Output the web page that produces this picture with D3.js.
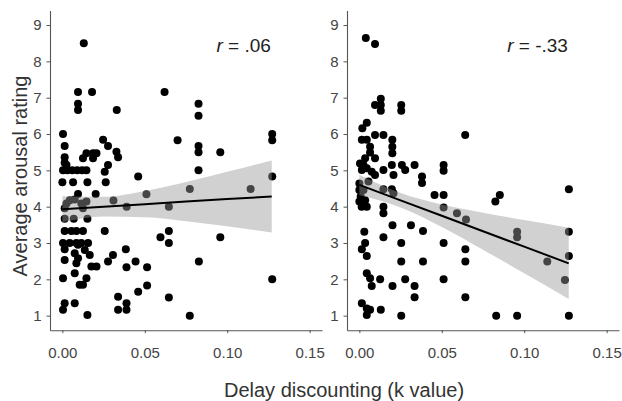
<!DOCTYPE html>
<html>
<head>
<meta charset="utf-8">
<script src="https://cdn.jsdelivr.net/npm/d3@7"></script>
<style>
  html, body { margin: 0; padding: 0; background: #fff; }
  svg { display: block; font-family: "Liberation Sans", Arial, sans-serif; }
</style>
</head>
<body>
<svg id="chart" width="622" height="401"></svg>
<script>
// ---------- data ----------
const xTicks = [0, 0.05, 0.10, 0.15];
const yTicks = [1, 2, 3, 4, 5, 6, 7, 8, 9];
const xTitle = "Delay discounting (k value)";
const yTitle = "Average arousal rating";
const leftLabel = ".06";
const rightLabel = "-.33";

// [k value, average arousal rating]
const leftPoints = [
  [0.013,8.5],
  [0.0095,7.16],[0.018,7.16],[0.0095,6.83],[0.0095,6.66],[0.033,6.66],[0.062,7.16],
  [0.0826,6.83],[0.0826,6.5],
  [0.0004,6.0],[0.0014,5.67],[0.0014,5.36],[0.0014,5.21],
  [0.0247,5.84],[0.0277,5.67],[0.0328,5.51],[0.0338,5.36],
  [0.0146,5.47],[0.0186,5.47],[0.0207,5.47],[0.0125,5.33],[0.0186,5.33],
  [0.0699,5.83],[0.0826,5.67],[0.0826,5.5],[0.0958,5.5],[0.1273,6.0],[0.1273,5.83],
  [0.0826,5.0],
  [0.0277,5.15],[0.0257,4.96],[0.0025,5.15],
  [0.0004,5.0],[0.003,5.0],[0.006,5.0],[0.009,5.0],[0.012,5.0],[0.0146,5.0],
  [0.046,4.83],[0.1273,4.83],
  [0.0,4.67],[0.0065,4.67],[0.0152,4.67],[0.0263,4.67],
  [0.0095,4.35],[0.0202,4.35],[0.051,4.34],[0.0773,4.49],[0.1142,4.49],
  [0.031,4.17],[0.039,4.0],[0.0646,4.0],
  [0.0025,4.09],[0.0045,4.18],[0.0075,4.2],[0.0115,4.09],[0.0146,4.14],[0.0014,3.96],[0.0125,3.96],
  [0.0014,3.67],[0.0069,3.67],[0.0152,3.67],
  [0.0014,3.33],[0.0055,3.33],[0.0085,3.33],[0.0125,3.33],[0.0257,3.33],[0.0646,3.33],
  [0.0595,3.16],[0.0646,3.0],[0.0958,3.16],
  [0.0004,3.0],[0.0044,3.0],[0.0085,3.0],[0.0115,3.0],[0.0156,3.0],
  [0.0014,2.83],[0.0095,2.95],[0.0136,2.81],[0.0166,2.67],[0.0385,2.83],[0.0307,2.67],[0.0277,2.49],[0.0444,2.49],[0.0828,2.49],
  [0.0014,2.53],[0.0075,2.72],[0.0095,2.58],[0.0085,2.44],
  [0.0176,2.35],[0.0207,2.35],[0.0389,2.33],[0.0514,2.33],
  [0.0075,2.17],[0.0004,2.03],[0.0146,2.03],
  [0.0105,1.85],[0.0125,1.85],[0.0514,1.83],[0.046,1.66],
  [0.1273,2.0],
  [0.0338,1.52],[0.0646,1.5],
  [0.0014,1.34],[0.0075,1.34],[0.0389,1.34],
  [0.0004,1.16],[0.0338,1.16],[0.0389,1.16],
  [0.0152,1.02],[0.0773,1.0]
];

const rightPoints = [
  [0.0039,8.64],[0.0095,8.48],
  [0.013,6.97],[0.013,6.8],[0.013,6.64],[0.0095,6.8],[0.0254,6.8],[0.0254,6.64],
  [0.0045,6.31],[0.0018,6.16],
  [0.0095,5.97],[0.0146,5.97],[0.0642,5.97],
  [0.0015,5.84],[0.0045,5.84],
  [0.02,5.84],[0.02,5.65],[0.02,5.47],
  [0.0065,5.65],[0.0065,5.49],
  [0.0035,5.33],[0.0095,5.33],
  [0.0004,5.19],[0.0025,5.15],[0.0015,5.01],[0.0045,5.06],[0.0075,4.96],[0.0095,4.87],
  [0.0146,5.01],[0.0197,5.15],[0.0207,4.87],[0.0258,5.15],[0.0278,5.01],[0.0335,5.15],
  [0.038,4.83],[0.038,4.65],
  [0.0511,5.15],[0.0511,4.99],
  [0.0,4.64],[0.0,4.46],[0.0008,4.28],[0.0,4.14],[0.0014,4.0],[0.0045,4.0],[0.0035,4.18],[0.0025,4.46],[0.0055,4.69],
  [0.0146,4.48],[0.0197,4.48],[0.0207,4.37],
  [0.0456,4.32],[0.0511,4.32],
  [0.0146,4.0],[0.0146,3.82],
  [0.0511,3.98],
  [0.0592,3.82],[0.0647,3.65],
  [0.0825,4.14],[0.0852,4.32],
  [0.0957,3.31],[0.0957,3.16],
  [0.1271,4.48],[0.1271,3.31],[0.1271,2.64],[0.1247,1.98],[0.1271,1.0],
  [0.114,2.49],
  [0.003,3.31],[0.0201,3.49],[0.0313,3.49],[0.0386,3.33],[0.0146,3.16],
  [0.0035,3.0],[0.0015,2.83],[0.0045,2.64],
  [0.0254,3.0],[0.0511,3.0],
  [0.0643,2.83],[0.0643,2.49],
  [0.0254,2.49],[0.0386,2.49],
  [0.0045,2.17],[0.0065,2.03],[0.0075,1.82],
  [0.0126,2.0],[0.0201,1.82],[0.0278,2.0],[0.0335,1.82],[0.0335,1.51],[0.0511,2.0],[0.0643,1.51],
  [0.0015,1.34],[0.0045,1.2],[0.0065,1.16],[0.0045,1.02],[0.013,1.16],
  [0.0254,1.0],[0.083,1.0],[0.0957,1.0]
];

// fitted line and confidence band, read at these k values
const bandK      = [0, 0.025, 0.05, 0.075, 0.10, 0.127];
const leftFit    = [3.93, 4.00, 4.07, 4.14, 4.21, 4.28];
const leftLower  = [3.57, 3.73, 3.71, 3.60, 3.46, 3.29];
const leftUpper  = [4.29, 4.27, 4.43, 4.68, 4.96, 5.27];
const rightFit   = [4.60, 4.175, 3.75, 3.325, 2.90, 2.44];
const rightLower = [4.32, 3.975, 3.44, 2.815, 2.17, 1.46];
const rightUpper = [4.88, 4.375, 4.06, 3.835, 3.63, 3.42];

// ---------- drawing ----------
const svg = d3.select("#chart");
const axisColor = "#555";
const textColor = "#444";

const y = d3.scaleLinear().domain([0.6, 9.4]).range([330.2, 10.5]);

function panel(x0, x1, points, fit, lower, upper, label) {
  const x = d3.scaleLinear().domain([-0.0075, 0.1575]).range([x0, x1]);
  const g = svg.append("g");

  // points
  g.append("g").selectAll("circle").data(points).join("circle")
    .attr("cx", d => x(d[0])).attr("cy", d => y(d[1]))
    .attr("r", 4).attr("fill", "#000");

  // confidence band
  const bandData = bandK.map((k, i) => ({k, lo: lower[i], hi: upper[i]}));
  g.append("path").datum(bandData)
    .attr("d", d3.area().x(d => x(d.k)).y0(d => y(d.lo)).y1(d => y(d.hi)).curve(d3.curveMonotoneX))
    .attr("fill", "#999").attr("fill-opacity", 0.45);

  // fit line
  const fitData = bandK.map((k, i) => ({k, v: fit[i]}));
  g.append("path").datum(fitData)
    .attr("d", d3.line().x(d => x(d.k)).y(d => y(d.v)))
    .attr("fill", "none").attr("stroke", "#000").attr("stroke-width", 2);

  // axes
  const xa = g.append("g").attr("transform", `translate(0,${y(0.6)})`)
    .call(d3.axisBottom(x).tickValues(xTicks).tickFormat(d3.format(".2f")).tickSize(3).tickSizeOuter(0).tickPadding(14));
  const ya = g.append("g").attr("transform", `translate(${x0},0)`)
    .call(d3.axisLeft(y).tickValues(yTicks).tickFormat(d3.format("d")).tickSize(3.5).tickSizeOuter(0).tickPadding(5));
  [xa, ya].forEach(a => {
    a.select(".domain").attr("stroke", axisColor).attr("stroke-width", 1.1);
    a.selectAll(".tick line").attr("stroke", axisColor);
    a.selectAll(".tick text").attr("fill", textColor)
      .style("font-size", "15px").style("font-family", "'Liberation Sans', Arial, sans-serif");
  });

  // r label
  const t = g.append("text")
    .attr("x", x(0.1265)).attr("y", 51.7)
    .attr("text-anchor", "end")
    .attr("fill", "#222")
    .style("font-size", "19px");
  t.append("tspan").style("font-style", "italic").text("r");
  t.append("tspan").text(" = " + label);
}

panel(50, 322, leftPoints, leftFit, leftLower, leftUpper, leftLabel);
panel(347, 619, rightPoints, rightFit, rightLower, rightUpper, rightLabel);

// axis titles
svg.append("text")
  .attr("transform", "translate(26.5,176) rotate(-90)")
  .attr("text-anchor", "middle").attr("fill", "#333")
  .style("font-size", "20px").text(yTitle);

svg.append("text")
  .attr("x", 344).attr("y", 396.5)
  .attr("text-anchor", "middle").attr("fill", "#333")
  .style("font-size", "20px").text(xTitle);
</script>
</body>
</html>
